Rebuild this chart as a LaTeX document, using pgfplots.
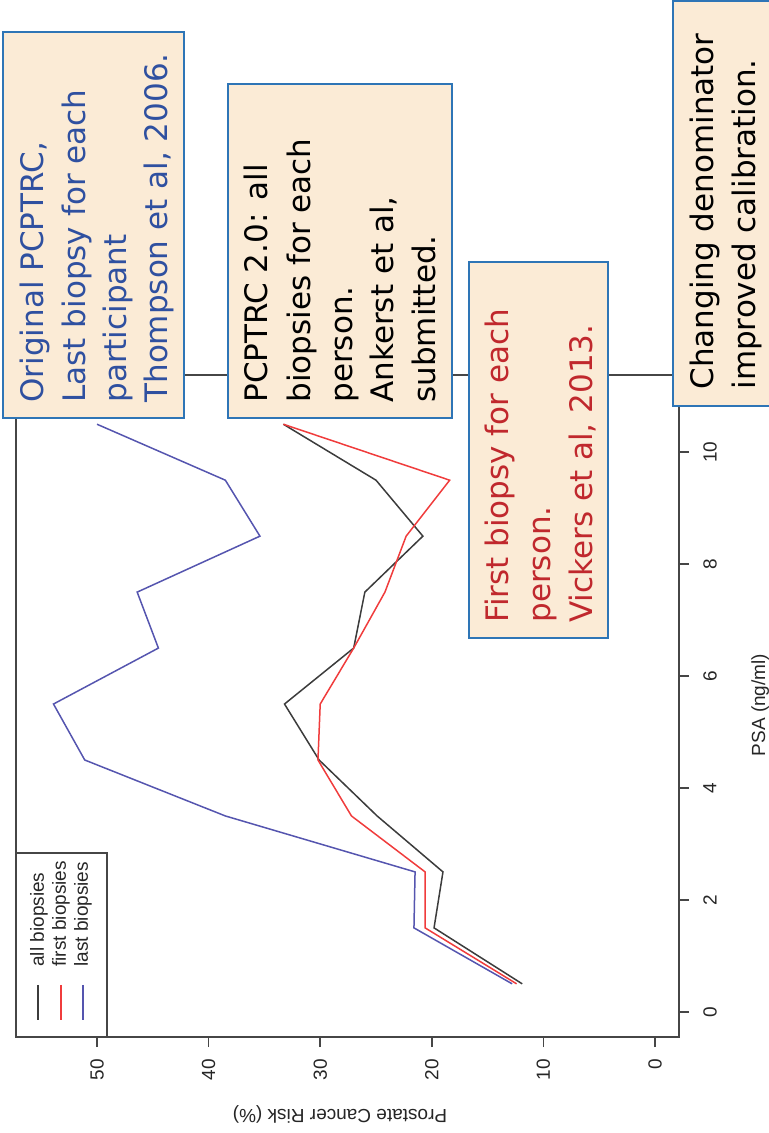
\documentclass[border=0pt]{standalone}
\usepackage{pgfplots}
\pgfplotsset{compat=1.18}
\usepackage{fontspec}
\setmainfont{Liberation Sans}
\newfontfamily\boxfont{DejaVu Sans}
\definecolor{cblack}{RGB}{60,60,60}
\definecolor{cred}{RGB}{240,60,60}
\definecolor{cblue}{RGB}{85,85,175}
\definecolor{axgray}{RGB}{70,70,70}
\definecolor{beige}{RGB}{251,235,214}
\definecolor{bord}{RGB}{46,117,182}
\definecolor{tblue}{RGB}{47,80,160}
\definecolor{tred}{RGB}{192,40,45}
\begin{document}
\begin{tikzpicture}
\useasboundingbox (0,0) rectangle (384.5pt,566.5pt);
\begin{axis}[
  at={(8pt,48pt)}, anchor=south west,
  scale only axis, width=331.5pt, height=331pt,
  x dir=reverse,
  xmin=-2.15, xmax=57.26, ymin=-0.45, ymax=11.38,
  xtick={0,10,20,30,40,50}, ytick={0,2,4,6,8,10},
  xtick pos=left, ytick pos=right, yticklabel pos=right,
  tick align=outside, major tick length=5pt,
  every tick/.style={axgray, line width=0.75pt},
  axis line style={axgray, line width=0.75pt},
  tick label style={font=\fontsize{9.5}{10}\selectfont, text=black!85},
  xticklabel style={rotate=90, anchor=east, inner sep=0pt},
  yticklabel style={rotate=90, anchor=north, inner sep=0pt},
  xticklabel shift=6pt, yticklabel shift=7pt,
  /pgf/number format/assume math mode=true,
]
\addplot[cblack, line width=0.75pt] coordinates {(11.9,0.5) (19.8,1.5) (19.0,2.5) (24.9,3.5) (30.1,4.5) (33.2,5.5) (27.0,6.5) (26.0,7.5) (20.8,8.5) (25.0,9.5) (33.3,10.5)};
\addplot[cred, line width=0.75pt] coordinates {(12.4,0.5) (20.6,1.5) (20.6,2.5) (27.2,3.5) (30.2,4.5) (30.0,5.5) (27.0,6.5) (24.2,7.5) (22.3,8.5) (18.4,9.5) (33.3,10.5)};
\addplot[cblue, line width=0.75pt] coordinates {(12.8,0.5) (21.6,1.5) (21.5,2.5) (38.5,3.5) (51.1,4.5) (53.9,5.5) (44.5,6.5) (46.4,7.5) (35.4,8.5) (38.5,9.5) (50.0,10.5)};
\end{axis}
\begin{scope}[x=0.5pt,y=-0.5pt,shift={(0pt,566.5pt)}]
\clip (0,0) rectangle (769,1133);
% axis titles
\node[rotate=90, anchor=north, inner sep=0pt, font=\fontsize{9.5}{10}\selectfont, text=black!85] at (751,705) {PSA (ng/ml)};
\node[rotate=180, inner sep=0pt, font=\fontsize{9.5}{10}\selectfont, text=black!85] at (340,1114) {Prostate Cancer Risk (\%)};
% legend
\draw[axgray, line width=0.75pt] (16,853) rectangle (107,1037);
\draw[cblack, line width=0.75pt] (38,985) -- (38,1020);
\draw[cred, line width=0.75pt] (61,985) -- (61,1020);
\draw[cblue, line width=0.75pt] (83,985) -- (83,1020);
\node[rotate=90, anchor=west, inner sep=0pt, font=\fontsize{9.5}{10}\selectfont, text=black!85] at (39,967) {all biopsies};
\node[rotate=90, anchor=west, inner sep=0pt, font=\fontsize{9.5}{10}\selectfont, text=black!85] at (61,967) {first biopsies};
\node[rotate=90, anchor=west, inner sep=0pt, font=\fontsize{9.5}{10}\selectfont, text=black!85] at (83,967) {last biopsies};
% annotation boxes
\tikzset{bx/.style={draw=bord, fill=beige, line width=0.75pt},
  bt/.style={rotate=90, anchor=base west, inner sep=0pt, font=\boxfont\fontsize{15.5}{18}\selectfont}}
\draw[bx] (3,32) rectangle (184,418);
\node[bt, text=tblue] at (43,403) {Original PCPTRC,};
\node[bt, text=tblue] at (85,403) {Last biopsy for each};
\node[bt, text=tblue] at (126,403) {participant};
\node[bt, text=tblue] at (167,403) {Thompson et al, 2006.};
\draw[bx] (228,84) rectangle (452,418);
\node[bt, text=black] at (267,403) {PCPTRC 2.0: all};
\node[bt, text=black] at (310,403) {biopsies for each};
\node[bt, text=black] at (352,403) {person.};
\node[bt, text=black] at (393,403) {Ankerst et al,};
\node[bt, text=black] at (435,403) {submitted.};
\draw[bx] (469,262) rectangle (608,638);
\node[bt, text=tred] at (508,623) {First biopsy for each};
\node[bt, text=tred] at (550,623) {person.};
\node[bt, text=tred] at (592,623) {Vickers et al, 2013.};
\draw[bx] (673,1) rectangle (800,406);
\node[bt, text=black] at (713,390) {Changing denominator};
\node[bt, text=black] at (755,390) {improved calibration.};
\end{scope}
\end{tikzpicture}
\end{document}
